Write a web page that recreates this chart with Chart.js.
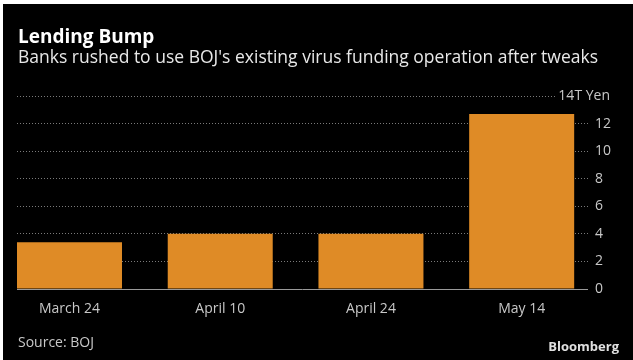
<!DOCTYPE html>
<html>
<head>
<meta charset="utf-8">
<script src="https://cdn.jsdelivr.net/npm/chart.js@4"></script>
<style>
  html, body { margin: 0; padding: 0; background: #ffffff; }
  #wrap { position: absolute; left: 3px; top: 4px; width: 630px; height: 356px; background: #000; }
  canvas { display: block; }
</style>
</head>
<body>
<div id="wrap"><canvas id="c" width="630" height="356"></canvas></div>
<script>
const titleText = "Lending Bump";
const subtitleText = "Banks rushed to use BOJ's existing virus funding operation after tweaks";
const sourceText = "Source: BOJ";
const brandText = "Bloomberg";
const unitLabel = "14T Yen";
const categories = ["March 24", "April 10", "April 24", "May 14"];
const lendingValues = [3.4, 4.0, 4.0, 12.7];
const yTicks = [0, 2, 4, 6, 8, 10, 12, 14];

const FONT = "'Open Sans', 'DejaVu Sans', sans-serif";

const textPlugin = {
  id: 'texts',
  beforeDraw(chart) {
    const ctx = chart.ctx;
    ctx.save();
    ctx.fillStyle = '#000';
    ctx.fillRect(0, 0, chart.width, chart.height);
    ctx.restore();
  },
  afterDraw(chart) {
    const ctx = chart.ctx;
    const y = chart.scales.y;
    ctx.save();
    ctx.textBaseline = 'alphabetic';
    ctx.textAlign = 'left';
    ctx.fillStyle = '#ffffff';
    ctx.font = "bold 19px " + FONT;
    ctx.fillText(titleText, 15, 38.7);
    ctx.fillStyle = '#e8e8e8';
    ctx.font = "17.5px " + FONT;
    ctx.fillText(subtitleText, 15, 58.5);
    ctx.fillStyle = '#c8c8c8';
    ctx.font = "14px " + FONT;
    ctx.fillText(sourceText, 15, 342.5);
    ctx.fillStyle = '#e0e0e0';
    ctx.font = "bold 13px " + FONT;
    ctx.textAlign = 'right';
    ctx.fillText(brandText, 616, 346.7);
    // unit label on top gridline
    ctx.font = "14px " + FONT;
    const yy = y.getPixelForValue(yTicks[yTicks.length - 1]);
    const w = ctx.measureText(unitLabel).width;
    ctx.fillStyle = '#000';
    ctx.fillRect(607 - w - 3, yy - 8, w + 6, 16);
    ctx.fillStyle = '#c8c8c8';
    ctx.textBaseline = 'middle';
    ctx.fillText(unitLabel, 607, yy);
    ctx.restore();
  }
};

new Chart(document.getElementById('c'), {
  type: 'bar',
  data: {
    datasets: [{
      data: lendingValues.map((v, i) => ({ x: i, y: v })),
      backgroundColor: '#DF8B26',
      borderWidth: 0,
      categoryPercentage: 1,
      barPercentage: 0.6966
    }]
  },
  options: {
    responsive: false,
    animation: false,
    devicePixelRatio: 1,
    layout: { padding: { left: 14, right: 0, top: 92, bottom: 39 } },
    plugins: { legend: { display: false }, tooltip: { enabled: false } },
    scales: {
      x: {
        type: 'linear',
        position: 'bottom',
        offset: false,
        min: -0.3483,
        max: 3.44,
        afterBuildTicks: (axis) => { axis.ticks = categories.map((c, i) => ({ value: i })); },
        afterFit: (axis) => { axis.height = 32; },
        grid: { display: false, offset: false },
        border: { display: false },
        ticks: {
          autoSkip: false,
          maxRotation: 0,
          padding: 4,
          color: '#c8c8c8',
          font: { family: FONT, size: 14 },
          callback: (v) => categories[v] !== undefined ? categories[v] : ''
        }
      },
      y: {
        position: 'right',
        min: 0,
        max: 14,
        afterBuildTicks: (axis) => { axis.ticks = yTicks.map(v => ({ value: v })); },
        afterFit: (axis) => { axis.width = 45; },
        grid: {
          drawTicks: false,
          color: (c) => c.tick && c.tick.value === 0 ? '#9a9a9a' : '#7a7a7a',
          lineWidth: 1
        },
        border: {
          display: false,
          dash: (c) => c.tick && c.tick.value === 0 ? [] : [1, 2]
        },
        ticks: {
          padding: 7,
          crossAlign: 'near',
          color: '#c8c8c8',
          font: { family: FONT, size: 14 },
          callback: (v) => v === yTicks[yTicks.length - 1] ? '' : String(v)
        }
      }
    }
  },
  plugins: [textPlugin]
});
</script>
</body>
</html>
